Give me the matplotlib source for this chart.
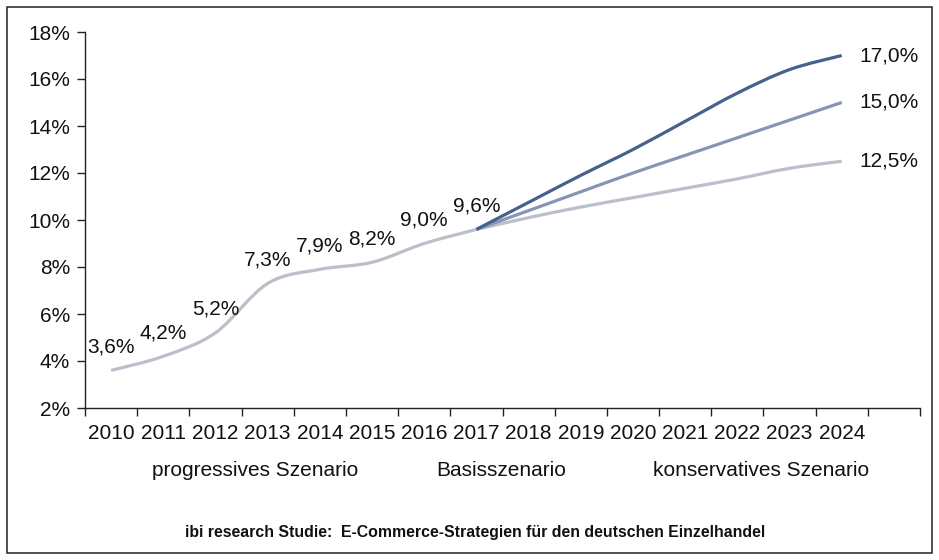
import matplotlib
matplotlib.use("Agg")
import matplotlib.pyplot as plt
from matplotlib.path import Path
from matplotlib.patches import PathPatch, Rectangle
from matplotlib.ticker import FixedLocator, NullFormatter
import numpy as np

plt.rcParams['font.family'] = ['Liberation Sans', 'DejaVu Sans']

# E-Commerce-Anteil am Einzelhandel (in %)
years = [2010, 2011, 2012, 2013, 2014, 2015, 2016, 2017, 2018,
         2019, 2020, 2021, 2022, 2023, 2024]
history = [3.6, 4.2, 5.2, 7.3, 7.9, 8.2, 9.0, 9.6]
forecast_years = [2017, 2018, 2019, 2020, 2021, 2022, 2023, 2024]
progressive = [9.6, 10.75, 11.9, 13.0, 14.2, 15.4, 16.4, 17.0]
basis = [9.6, 10.4, 11.2, 12.0, 12.75, 13.5, 14.25, 15.0]
conservative = [9.6, 10.1, 10.55, 10.95, 11.35, 11.75, 12.2, 12.5]

scenario_names = ["progressives Szenario", "Basisszenario", "konservatives Szenario"]
source = "ibi research Studie:  E-Commerce-Strategien für den deutschen Einzelhandel"

c_dark = "#46628c"
c_mid = "#8795b3"
c_light = "#b9c0c9"

FS = 15


def pct(v):
    return ("%.1f" % v).replace(".", ",") + "%"


def smooth_path(xs, ys):
    # Catmull-Rom through the points, drawn as cubic Bezier segments
    pts = np.column_stack([xs, ys]).astype(float)
    ext = np.vstack([pts[0], pts, pts[-1]])
    verts = [pts[0]]
    codes = [Path.MOVETO]
    for i in range(len(pts) - 1):
        p0, p1, p2, p3 = ext[i], ext[i + 1], ext[i + 2], ext[i + 3]
        c1 = p1 + (p2 - p0) / 6.0
        c2 = p2 - (p3 - p1) / 6.0
        verts += [c1, c2, p2]
        codes += [Path.CURVE4] * 3
    return Path(verts, codes)


def xpos(yr):
    return years.index(yr) + 0.5


fig = plt.figure(figsize=(9.39, 5.6), dpi=100)
ax = fig.add_axes([85 / 939, (560 - 408) / 560, (920 - 85) / 939, (408 - 32) / 560])

hist_x = [xpos(y) for y in years[:len(history)]]
fc_x = [xpos(y) for y in forecast_years]

for xs, ys, col in [(hist_x, history, c_light),
                    (fc_x, conservative, c_light),
                    (fc_x, basis, c_mid),
                    (fc_x, progressive, c_dark)]:
    ax.add_patch(PathPatch(smooth_path(xs, ys), facecolor="none", edgecolor=col,
                           lw=2.3, capstyle="butt", joinstyle="round"))

for x, v in zip(hist_x, history):
    ax.annotate(pct(v), (x, v), xytext=(0, 17), textcoords="offset points",
                ha="center", va="center", fontsize=FS, color="#111111")

for ys in [progressive, basis, conservative]:
    ax.annotate(pct(ys[-1]), (fc_x[-1], ys[-1]), xytext=(13, 0),
                textcoords="offset points", ha="left", va="center",
                fontsize=FS, color="#111111")

ax.set_xlim(0, len(years) + 1)
ax.set_ylim(2, 18)
ax.set_yticks(np.arange(2, 19, 2))
ax.set_yticklabels(["%d%%" % v for v in range(2, 19, 2)])

ax.xaxis.set_major_locator(FixedLocator(np.arange(0, len(years) + 2)))
ax.xaxis.set_major_formatter(NullFormatter())
ax.xaxis.set_minor_locator(FixedLocator([i + 0.5 for i in range(len(years))]))
ax.set_xticklabels([str(y) for y in years], minor=True)

ax.tick_params(axis="x", which="major", direction="out", length=5.8, width=1, color="#222222")
ax.tick_params(axis="x", which="minor", length=0, pad=11.5, labelsize=FS, labelcolor="#111111")
ax.tick_params(axis="y", direction="out", length=5.8, width=1, pad=5, labelsize=FS,
               color="#222222", labelcolor="#111111")

for side in ["top", "right"]:
    ax.spines[side].set_visible(False)
for side in ["left", "bottom"]:
    ax.spines[side].set_color("#222222")
    ax.spines[side].set_linewidth(1.0)

# scenario names under the axis
for name, xc in zip(scenario_names, [255, 501, 761]):
    fig.text(xc / 939, (560 - 471) / 560, name, ha="center", va="center",
             fontsize=FS, color="#111111")

fig.text(475 / 939, (560 - 532) / 560, source, ha="center", va="center",
         fontsize=11.4, fontweight="bold", color="#111111")

# frame around the whole chart
fig.patches.append(Rectangle((7 / 939, 7 / 560), 925 / 939, 546 / 560,
                             transform=fig.transFigure, fill=False,
                             edgecolor="#222222", lw=1.1))

fig.savefig("out.png", dpi=100)
